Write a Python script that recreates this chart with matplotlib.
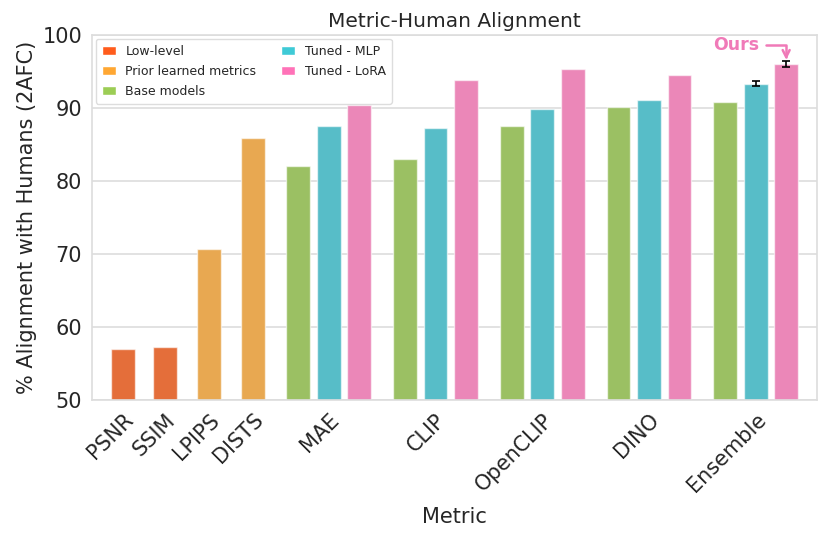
import matplotlib
matplotlib.use("Agg")
import matplotlib.pyplot as plt
import seaborn as sns
from matplotlib.patches import Patch

sns.set_style("whitegrid")
plt.rcParams['font.family'] = ['DejaVu Sans']

# ---- data ----
single_names = ["PSNR", "SSIM", "LPIPS", "DISTS"]
single_values = [57.0, 57.3, 70.7, 85.9]
single_cats = ["Low-level", "Low-level", "Prior learned metrics", "Prior learned metrics"]

group_names = ["MAE", "CLIP", "OpenCLIP", "DINO", "Ensemble"]
base_values = [82.0, 83.0, 87.5, 90.1, 90.8]
mlp_values = [87.6, 87.3, 89.9, 91.1, 93.3]
lora_values = [90.4, 93.8, 95.4, 94.5, 96.0]
mlp_err = [0, 0, 0, 0, 0.35]
lora_err = [0, 0, 0, 0, 0.4]

categories = ["Low-level", "Prior learned metrics", "Base models", "Tuned - MLP", "Tuned - LoRA"]
legend_colors = ["#FF5C1C", "#FFA733", "#9CCD55", "#3FCAD6", "#FF72B8"]
bar_colors = ["#E46E3A", "#E8A851", "#9BC063", "#57BDC8", "#EB87B8"]
cmap = dict(zip(categories, bar_colors))

fig = plt.figure(figsize=(8.3, 5.4), dpi=100)
ax = fig.add_axes([0.1108, 0.2593, 0.8735, 0.6759])

width = 0.78
edge = dict(edgecolor=(1, 1, 1, 0.6), linewidth=1.0)

tick_pos, tick_lab = [], []
single_x = [0, 1.37, 2.83, 4.25]
for x, v, c, n in zip(single_x, single_values, single_cats, single_names):
    ax.bar(x, v - 50, bottom=50, width=width, color=cmap[c], **edge, zorder=2)
    tick_pos.append(x)
    tick_lab.append(n)

g0 = 5.74
gstep = 3.5
for i, n in enumerate(group_names):
    xb = g0 + i * gstep
    ax.bar(xb, base_values[i] - 50, bottom=50, width=width, color=cmap["Base models"], **edge, zorder=2)
    ax.bar(xb + 1, mlp_values[i] - 50, bottom=50, width=width, color=cmap["Tuned - MLP"], **edge, zorder=2)
    ax.bar(xb + 2, lora_values[i] - 50, bottom=50, width=width, color=cmap["Tuned - LoRA"], **edge, zorder=2)
    if mlp_err[i] > 0:
        ax.errorbar(xb + 1, mlp_values[i], yerr=mlp_err[i], fmt="none", ecolor="black", capsize=3, elinewidth=1.2, capthick=1.2, zorder=3)
    if lora_err[i] > 0:
        ax.errorbar(xb + 2, lora_values[i], yerr=lora_err[i], fmt="none", ecolor="black", capsize=3, elinewidth=1.2, capthick=1.2, zorder=3)
    tick_pos.append(xb + 1)
    tick_lab.append(n)

ax.set_ylim(50, 100)
ax.set_xlim(-1.02, 22.75)
ax.set_yticks([50, 60, 70, 80, 90, 100])
ax.tick_params(axis="y", labelsize=15)
ax.set_xticks(tick_pos)
ax.set_xticklabels(tick_lab, rotation=45, ha="right", rotation_mode="anchor", fontsize=15)
ax.grid(axis="x", visible=False)
ax.grid(axis="y", color="#dddddd", linewidth=1.2, zorder=0)
ax.set_axisbelow(True)
for s in ax.spines.values():
    s.set_color("#dddddd")
    s.set_linewidth(1.2)

ax.set_ylabel("% Alignment with Humans (2AFC)", fontsize=15)
ax.set_xlabel("Metric", fontsize=15, labelpad=8)
ax.set_title("Metric-Human Alignment", fontsize=14.5, pad=6)

handles = [Patch(facecolor=c, label=l) for c, l in zip(legend_colors, categories)]
ax.legend(handles=handles, loc="upper left", ncol=2, fontsize=9, frameon=True,
          handlelength=1.12, handleheight=0.8, handletextpad=0.75, columnspacing=2.0,
          borderaxespad=0.3, labelspacing=0.55, borderpad=0.5, framealpha=1, edgecolor="#dddddd")

# "Ours" annotation
target_x = g0 + 4 * gstep + 2
ax.annotate("Ours", xy=(target_x, lora_values[-1] + 0.6), xytext=(target_x - 1.65, 98.6),
            color="#F07AB8", fontsize=12.5, fontweight="bold", ha="center", va="center",
            arrowprops=dict(arrowstyle="->", color="#F07AB8", lw=1.8,
                            connectionstyle="angle,angleA=0,angleB=90,rad=0",
                            shrinkA=3, shrinkB=0))

fig.savefig("out.png", dpi=100)
